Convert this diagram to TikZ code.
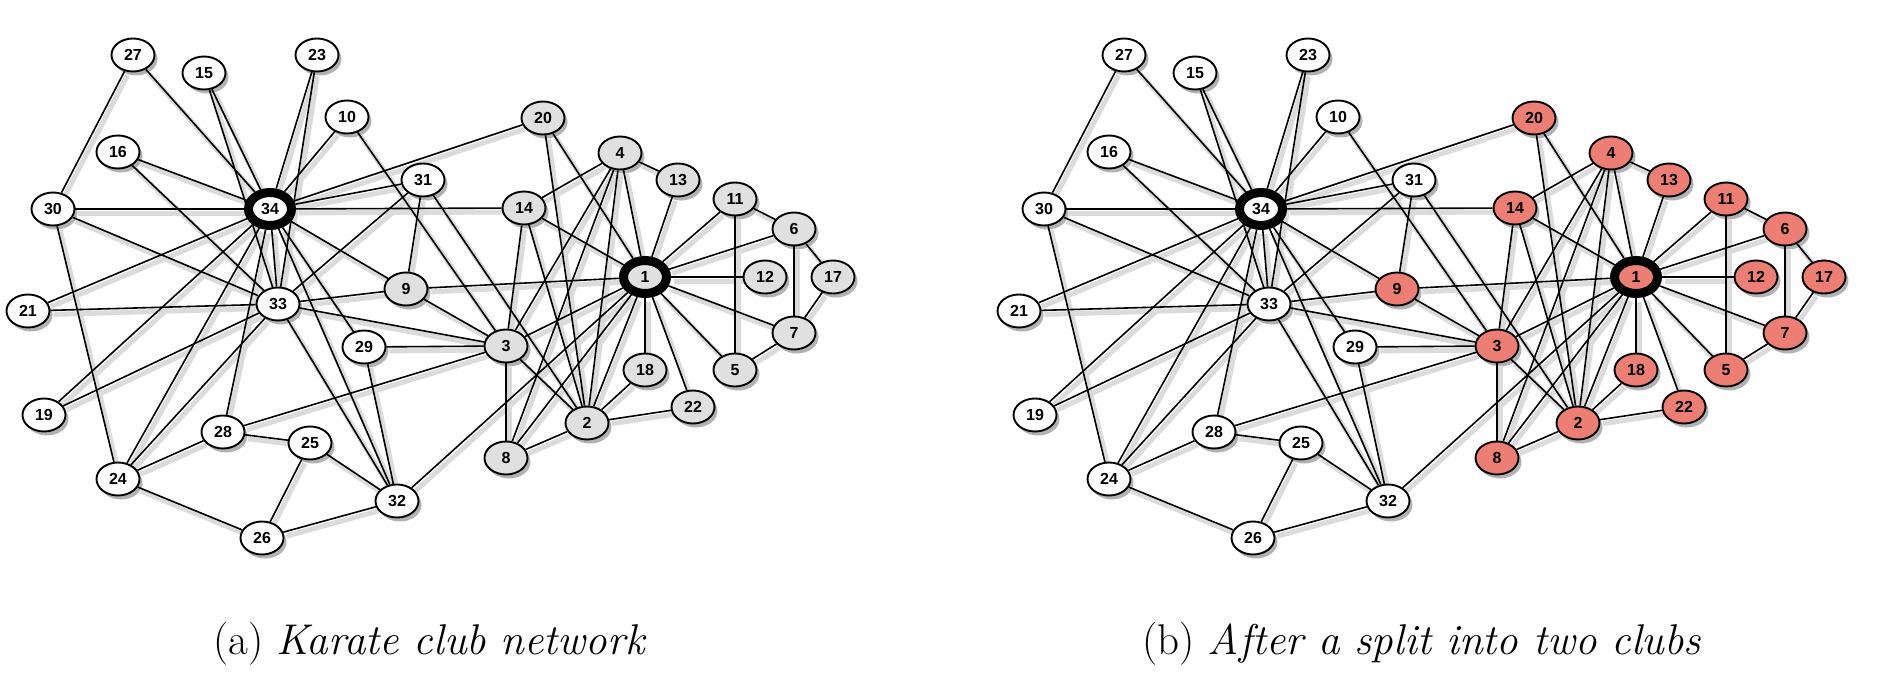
\documentclass[tikz,border=0pt]{standalone}
\usepackage{fontspec}
\usetikzlibrary{shapes.geometric, shadows}
\newfontfamily\labelfont{Liberation Sans}
\definecolor{clubgray}{RGB}{224,224,224}
\definecolor{splitred}{RGB}{236,126,116}
\pgfdeclarelayer{background}
\pgfsetlayers{background,main}

% member / x / y / faction (1 = instructor's side)
\newcommand{\clubpos}{1/645/277/1, 2/587/423/1, 3/506/346/1, 4/620/153/1,
  5/735/370/1, 6/794/229/1, 7/794/333/1, 8/506/458/1, 9/406/289/1,
  10/347/117/0, 11/735/199/1, 12/765/277/1, 13/678/180/1, 14/524/208/1,
  15/204/73/0, 16/118/152/0, 17/833/277/1, 18/645/370/1, 19/44/415/0,
  20/543/118/1, 21/28/311/0, 22/693/407/1, 23/317/55/0, 24/118/479/0,
  25/310/443/0, 26/262/538/0, 27/133/55/0, 28/223/432/0, 29/364/347/0,
  30/53/209/0, 31/423/180/0, 32/397/501/0, 33/278/304/0, 34/270/209/0}
\newcommand{\clubties}{1/2, 1/3, 1/4, 1/5, 1/6, 1/7, 1/8, 1/9, 1/11, 1/12,
  1/13, 1/14, 1/18, 1/20, 1/22, 1/32, 2/3, 2/4, 2/8, 2/14, 2/18, 2/20,
  2/22, 2/31, 3/4, 3/8, 3/9, 3/10, 3/14, 3/28, 3/29, 3/33, 4/8, 4/13,
  4/14, 5/7, 5/11, 6/7, 6/11, 6/17, 7/17, 9/31, 9/33, 9/34, 10/34,
  14/34, 15/33, 15/34, 16/33, 16/34, 19/33, 19/34, 20/34, 21/33, 21/34,
  23/33, 23/34, 24/26, 24/28, 24/30, 24/33, 24/34, 25/26, 25/28, 25/32,
  26/32, 27/30, 27/34, 28/34, 29/32, 29/34, 30/33, 30/34, 31/33, 31/34,
  32/33, 32/34, 33/34}

% #1 name prefix, #2 colour of the instructor's side, #3 x shift
\newcommand{\karate}[3]{%
  \foreach \n/\px/\py/\f in \clubpos {
    \ifnum\f=1 \def\fillc{#2}\else\def\fillc{white}\fi
    \pgfmathsetmacro\lw{(\n==1 || \n==34) ? 9 : 1.9}
    \node[member, fill=\fillc, line width=\lw pt] (#1\n) at (\px+#3,\py) {\n};
  }
  \begin{pgfonlayer}{background}
    \begin{scope}[transform canvas={shift={(3pt,-4pt)}}]
      \foreach \u/\v in \clubties {\draw[tieshadow] (#1\u) -- (#1\v);}
    \end{scope}
    \foreach \u/\v in \clubties {\draw[tie] (#1\u) -- (#1\v);}
  \end{pgfonlayer}
}

\begin{document}
\begin{tikzpicture}[x=1pt, y=-1pt,
    member/.style={ellipse, draw=black, inner sep=0pt,
      minimum width=43pt, minimum height=33pt,
      font=\labelfont\bfseries\fontsize{16}{16}\selectfont,
      drop shadow={shadow xshift=3pt, shadow yshift=-4pt, fill=black, opacity=0.3}},
    tie/.style={draw=black, line width=1.6pt},
    tieshadow/.style={draw=black!14, line width=5pt},
    caption/.style={anchor=base, font=\fontsize{43}{52}\selectfont}]
  \useasboundingbox (0,0) rectangle (1892,698);

  \karate{a}{clubgray}{0}
  \karate{b}{splitred}{991}

  \node[caption] (capa) at (430,654) {(a) \textit{Karate club network}};
  \node[caption] (capb) at (1422,654) {(b) \textit{After a split into two clubs}};
\end{tikzpicture}
\end{document}
